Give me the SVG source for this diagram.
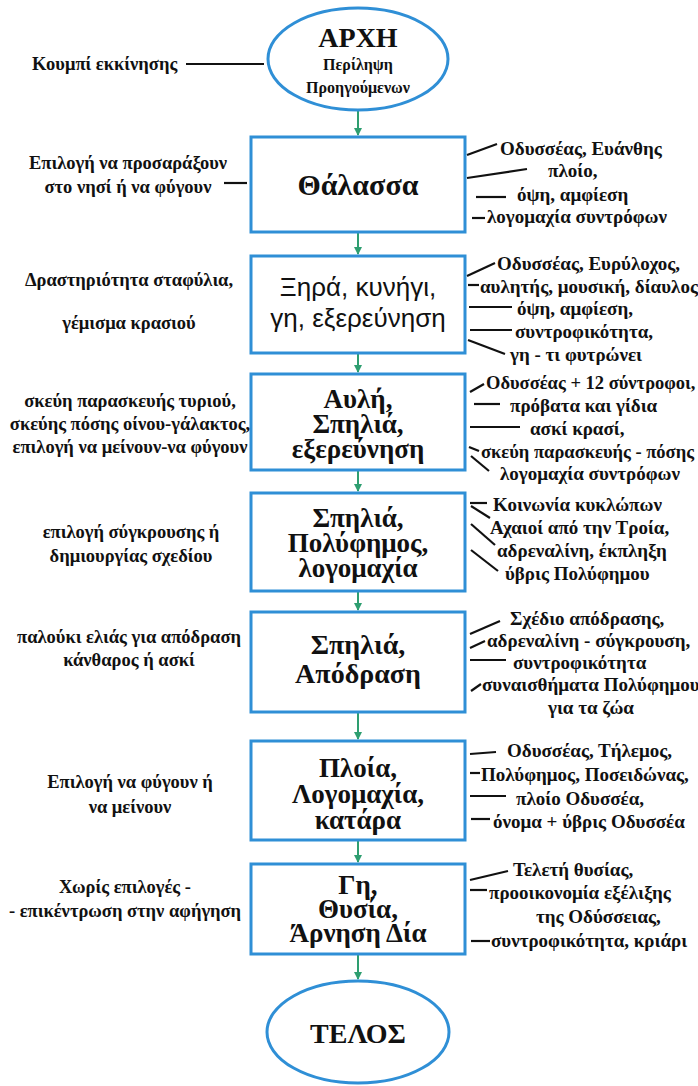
<svg xmlns="http://www.w3.org/2000/svg" width="698" height="1086" viewBox="0 0 698 1086">
<style>
.node{fill:#fff;stroke:#2f8fd6;stroke-width:3}
.t{font-family:"Liberation Serif","DejaVu Serif",serif;font-weight:bold;font-size:18.5px;fill:#111}
.r{font-size:19px}
.m{text-anchor:middle}
.title{font-family:"Liberation Serif","DejaVu Serif",serif;font-weight:bold;font-size:27px;fill:#111;text-anchor:middle}
.sans{font-family:"Liberation Sans","DejaVu Sans",sans-serif;font-weight:normal;font-size:26px}
.ln{stroke:#111;stroke-width:2.2;fill:none}
.ar{stroke:#2e9e70;stroke-width:2;fill:none}
</style>
<defs>
<marker id="ah" markerWidth="8" markerHeight="8" refX="7" refY="4" orient="auto" markerUnits="userSpaceOnUse">
<path d="M0,0 L8,4 L0,8 Z" fill="#2e9e70"/>
</marker>
</defs>
<rect width="698" height="1086" fill="#fff"/>

<g id="connectors">
<line class="ar" x1="358" y1="110" x2="358" y2="135" marker-end="url(#ah)"/>
<line class="ar" x1="358" y1="233" x2="358" y2="254" marker-end="url(#ah)"/>
<line class="ar" x1="358" y1="354" x2="358" y2="372" marker-end="url(#ah)"/>
<line class="ar" x1="358" y1="470" x2="358" y2="491" marker-end="url(#ah)"/>
<line class="ar" x1="358" y1="592" x2="358" y2="610" marker-end="url(#ah)"/>
<line class="ar" x1="358" y1="713" x2="358" y2="739" marker-end="url(#ah)"/>
<line class="ar" x1="358" y1="841" x2="358" y2="862" marker-end="url(#ah)"/>
<line class="ar" x1="358" y1="954" x2="358" y2="979" marker-end="url(#ah)"/>
</g>

<g id="start">
<ellipse class="node" cx="358" cy="59" rx="90" ry="51"/>
<text class="title" x="358" y="47" style="font-size:28px">ΑΡΧΗ</text>
<text class="t m" x="358" y="70" style="font-size:16px">Περίληψη</text>
<text class="t m" x="358" y="93" style="font-size:16px">Προηγούμενων</text>
<text class="t" x="32" y="70">Κουμπί εκκίνησης</text>
<line class="ln" x1="186" y1="64" x2="264" y2="64"/>
</g>

<g id="n1">
<rect class="node" x="251" y="137" width="214" height="95"/>
<text class="title" x="358" y="195" style="font-size:30px">Θάλασσα</text>
<text class="t m" x="128" y="169">Επιλογή να προσαράξουν</text>
<text class="t m" x="128" y="193">στο νησί ή να φύγουν</text>
<line class="ln" x1="224" y1="183" x2="247" y2="183"/>
<line class="ln" x1="467" y1="155" x2="497" y2="144"/>
<text class="t r" x="500" y="155">Οδυσσέας, Ευάνθης</text>
<line class="ln" x1="467" y1="178" x2="527" y2="169"/>
<text class="t r" x="548" y="177">πλοίο,</text>
<line class="ln" x1="476" y1="197" x2="506" y2="197"/>
<text class="t r" x="517" y="201">όψη, αμφίεση</text>
<line class="ln" x1="472" y1="218" x2="485" y2="218"/>
<text class="t r" x="487" y="223">λογομαχία συντρόφων</text>
</g>

<g id="n2">
<rect class="node" x="251" y="256" width="214" height="97"/>
<text class="title sans" x="358" y="296">Ξηρά, κυνήγι,</text>
<text class="title sans" x="358" y="327">γη, εξερεύνηση</text>
<text class="t m" x="129" y="286">Δραστηριότητα σταφύλια,</text>
<text class="t m" x="129" y="329">γέμισμα κρασιού</text>
<line class="ln" x1="467" y1="276" x2="495" y2="263"/>
<text class="t r" x="497" y="270">Οδυσσέας, Ευρύλοχος,</text>
<line class="ln" x1="468" y1="285" x2="479" y2="285"/>
<text class="t r" x="480" y="293">αυλητής, μουσική, δίαυλος</text>
<line class="ln" x1="469" y1="307" x2="512" y2="307"/>
<text class="t r" x="517" y="315">όψη, αμφίεση,</text>
<line class="ln" x1="470" y1="330" x2="512" y2="330"/>
<text class="t r" x="515" y="338">συντροφικότητα,</text>
<line class="ln" x1="468" y1="340" x2="505" y2="354"/>
<text class="t r" x="510" y="361">γη - τι φυτρώνει</text>
</g>

<g id="n3">
<rect class="node" x="251" y="374" width="214" height="96"/>
<text class="title" x="358" y="408">Αυλή,</text>
<text class="title" x="358" y="433">Σπηλιά,</text>
<text class="title" x="358" y="458">εξερεύνηση</text>
<text class="t m" x="130" y="407">σκεύη παρασκευής τυριού,</text>
<text class="t m" x="130" y="430">σκεύης πόσης οίνου-γάλακτος,</text>
<text class="t m" x="130" y="453">επιλογή να μείνουν-να φύγουν</text>
<line class="ln" x1="470" y1="392" x2="484" y2="384"/>
<text class="t" x="486" y="389">Οδυσσέας + 12 σύντροφοι,</text>
<line class="ln" x1="474" y1="404" x2="500" y2="404"/>
<text class="t r" x="510" y="412">πρόβατα και γίδια</text>
<line class="ln" x1="470" y1="427" x2="520" y2="427"/>
<text class="t r" x="530" y="435">ασκί κρασί,</text>
<line class="ln" x1="469" y1="447" x2="479" y2="451"/>
<text class="t" x="481" y="458">σκεύη παρασκευής - πόσης</text>
<line class="ln" x1="471" y1="456" x2="489" y2="471"/>
<text class="t r" x="500" y="480">λογομαχία συντρόφων</text>
</g>

<g id="n4">
<rect class="node" x="251" y="493" width="214" height="98"/>
<text class="title" x="358" y="527">Σπηλιά,</text>
<text class="title" x="358" y="552">Πολύφημος,</text>
<text class="title" x="358" y="577">λογομαχία</text>
<text class="t m" x="131" y="538">επιλογή σύγκρουσης ή</text>
<text class="t m" x="131" y="562">δημιουργίας σχεδίου</text>
<line class="ln" x1="470" y1="503" x2="487" y2="503"/>
<text class="t r" x="493" y="511">Κοινωνία κυκλώπων</text>
<line class="ln" x1="471" y1="506" x2="490" y2="518"/>
<text class="t r" x="490" y="534">Αχαιοί από την Τροία,</text>
<line class="ln" x1="471" y1="524" x2="495" y2="545"/>
<text class="t r" x="497" y="557">αδρεναλίνη, έκπληξη</text>
<line class="ln" x1="471" y1="550" x2="498" y2="571"/>
<text class="t r" x="505" y="580">ύβρις Πολύφημου</text>
</g>

<g id="n5">
<rect class="node" x="251" y="612" width="214" height="100"/>
<text class="title" x="358" y="654" style="font-size:28px">Σπηλιά,</text>
<text class="title" x="358" y="683" style="font-size:28px">Απόδραση</text>
<text class="t m" x="129" y="643">παλούκι ελιάς για απόδραση</text>
<text class="t m" x="129" y="666">κάνθαρος ή ασκί</text>
<line class="ln" x1="470" y1="634" x2="500" y2="621"/>
<text class="t r" x="510" y="625">Σχέδιο απόδρασης,</text>
<line class="ln" x1="470" y1="648" x2="485" y2="641"/>
<text class="t r" x="487" y="647">αδρεναλίνη - σύγκρουση,</text>
<line class="ln" x1="470" y1="660" x2="506" y2="660"/>
<text class="t r" x="513" y="669">συντροφικότητα</text>
<line class="ln" x1="471" y1="691" x2="481" y2="684"/>
<text class="t r" x="482" y="691">συναισθήματα Πολύφημου</text>
<text class="t r" x="548" y="714">για τα ζώα</text>
</g>

<g id="n6">
<rect class="node" x="251" y="741" width="214" height="99"/>
<text class="title" x="358" y="777">Πλοία,</text>
<text class="title" x="358" y="803">Λογομαχία,</text>
<text class="title" x="358" y="829">κατάρα</text>
<text class="t m" x="130" y="788">Επιλογή να φύγουν ή</text>
<text class="t m" x="130" y="813">να μείνουν</text>
<line class="ln" x1="470" y1="754" x2="496" y2="752"/>
<text class="t r" x="507" y="757">Οδυσσέας, Τήλεμος,</text>
<line class="ln" x1="470" y1="773" x2="480" y2="773"/>
<text class="t r" x="481" y="781">Πολύφημος, Ποσειδώνας,</text>
<line class="ln" x1="470" y1="796" x2="506" y2="796"/>
<text class="t r" x="516" y="805">πλοίο Οδυσσέα,</text>
<line class="ln" x1="471" y1="819" x2="490" y2="819"/>
<text class="t r" x="493" y="828">όνομα + ύβρις Οδυσσέα</text>
</g>

<g id="n7">
<rect class="node" x="251" y="864" width="214" height="90"/>
<text class="title" x="358" y="894">Γη,</text>
<text class="title" x="358" y="918">Θυσία,</text>
<text class="title" x="358" y="942">Άρνηση Δία</text>
<text class="t m" x="125" y="893">Χωρίς επιλογές -</text>
<text class="t m" x="125" y="917">- επικέντρωση στην αφήγηση</text>
<line class="ln" x1="470" y1="880" x2="508" y2="871"/>
<text class="t r" x="513" y="876">Τελετή θυσίας,</text>
<line class="ln" x1="470" y1="890" x2="487" y2="890"/>
<text class="t r" x="489" y="899">προοικονομία εξέλιξης</text>
<text class="t r" x="536" y="923">της Οδύσσειας,</text>
<line class="ln" x1="471" y1="941" x2="490" y2="941"/>
<text class="t r" x="491" y="947">συντροφικότητα, κριάρι</text>
</g>

<g id="end">
<ellipse class="node" cx="358" cy="1032" rx="91" ry="51"/>
<text class="title" x="358" y="1043" style="font-size:28px">ΤΕΛΟΣ</text>
</g>
</svg>
